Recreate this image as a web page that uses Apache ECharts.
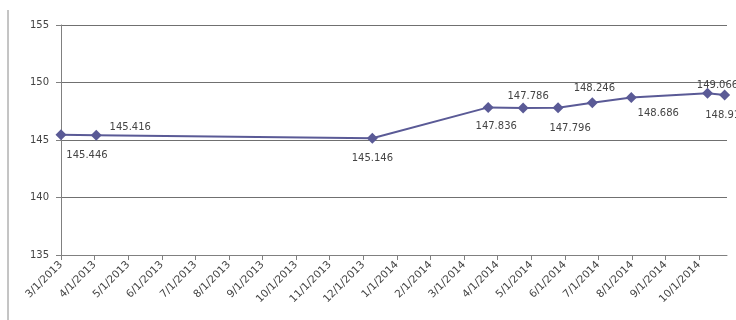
<!DOCTYPE html>
<html><head><meta charset="utf-8">
<script src="https://cdn.jsdelivr.net/npm/echarts@6/dist/echarts.min.js"></script>
<style>html,body{margin:0;padding:0;background:#fff}#c{width:736px;height:320px}</style>
</head><body><div id="c"></div>
<script>
// Month tick labels (one per month, index 0 = 3/1/2013)
const monthLabels = ['3/1/2013','4/1/2013','5/1/2013','6/1/2013','7/1/2013','8/1/2013','9/1/2013','10/1/2013','11/1/2013','12/1/2013',
  '1/1/2014','2/1/2014','3/1/2014','4/1/2014','5/1/2014','6/1/2014','7/1/2014','8/1/2014','9/1/2014','10/1/2014'];
// Point positions in months since 3/1/2013
const pointMonths = [0, 1.05, 9.27, 12.72, 13.76, 14.8, 15.82, 16.98, 19.25, 19.76];
const pointValues = [145.446, 145.416, 145.146, 147.836, 147.786, 147.796, 148.246, 148.686, 149.066, 148.91];
const yTicks = [135, 140, 145, 150, 155];
// label offsets (style only)
const labelOffsets = [[26,21],[34,-8],[0,20],[8,19],[5,-12],[12,21],[2,-14],[27,16],[10,-8],[-2,20]];

const chart = echarts.init(document.getElementById('c'));
const lineColor = '#5a5a96';
const axisColor = '#808080';
chart.setOption({
  animation: false,
  grid: {left: 61, right: 9, top: 25, bottom: 65},
  xAxis: {
    type: 'value', min: 0, max: 19.83, interval: 1,
    axisLine: {lineStyle: {color: axisColor, width: 1}},
    axisTick: {show: true, length: 5, lineStyle: {color: axisColor}},
    splitLine: {show: false},
    axisLabel: {
      rotate: 45, margin: 8, fontSize: 10.5, color: '#444', fontFamily: 'DejaVu Sans',
      showMaxLabel: false,
      formatter: v => (Number.isInteger(v) && monthLabels[v]) ? monthLabels[v] : ''
    }
  },
  yAxis: {
    type: 'value', min: yTicks[0], max: yTicks[yTicks.length-1], interval: 5,
    axisLine: {show: true, lineStyle: {color: axisColor, width: 1}},
    axisTick: {show: true, inside: false, length: 5, lineStyle: {color: axisColor}},
    splitLine: {show: true, lineStyle: {color: '#707070', width: 1}},
    axisLabel: {fontSize: 10, color: '#444', fontFamily: 'DejaVu Sans', margin: 12}
  },
  graphic: [{
    type: 'line', shape: {x1: 8, y1: 10, x2: 8, y2: 320},
    style: {stroke: '#8a8a8a', lineWidth: 1}
  }],
  series: [{
    type: 'line',
    data: pointValues.map((v, i) => ({
      value: [pointMonths[i], v],
      label: {offset: labelOffsets[i]}
    })),
    symbol: 'diamond', symbolSize: 11,
    lineStyle: {color: lineColor, width: 2},
    itemStyle: {color: lineColor},
    label: {
      show: true, position: 'inside', fontSize: 10, color: '#444', fontFamily: 'DejaVu Sans',
      formatter: p => String(p.value[1])
    },
    clip: false
  }]
});
</script></body></html>
